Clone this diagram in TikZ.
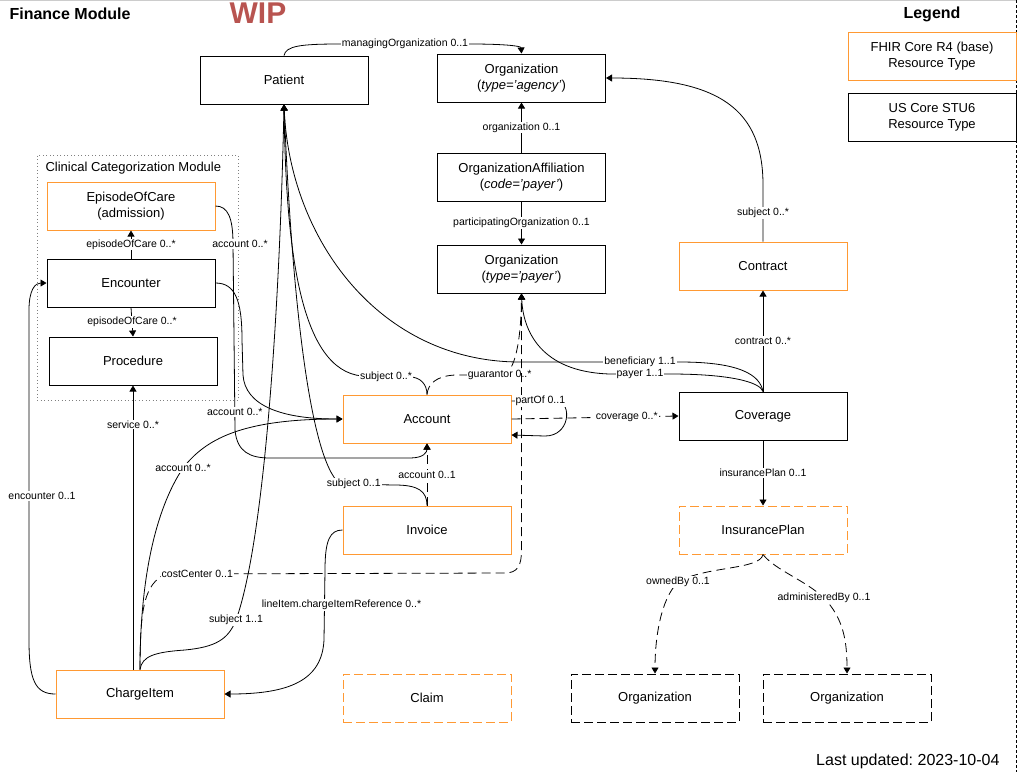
\documentclass[tikz,border=0pt]{standalone}
\usepackage{fontspec}
\setmainfont{Liberation Sans}
\usetikzlibrary{arrows.meta}
\definecolor{fhirorange}{HTML}{FF9933}
\definecolor{wipred}{HTML}{B85450}
\begin{document}
\begin{tikzpicture}[x=1pt,y=-1pt,
 box/.style={draw, line width=1pt, minimum width=168pt, minimum height=48pt, inner sep=0pt, align=center, font=\fontsize{13}{16}\selectfont, fill=white},
 fhir/.style={box, draw=fhirorange},
 uscore/.style={box, draw=black},
 dashbox/.style={dash pattern=on 9pt off 4pt},
 rel/.style={draw=black, line width=0.8pt, -{Triangle[length=6pt,width=7pt]}},
 drel/.style={rel, dash pattern=on 9pt off 5pt},
 lbl/.style={font=\fontsize{10.5}{12}\selectfont, fill=white, inner sep=1pt, text=black},
 heading/.style={font=\bfseries\fontsize{16}{19}\selectfont}
]
\useasboundingbox (0,0) rectangle (1019,772);
% frame lines
\draw[gray!40, line width=1pt] (0,0.5) -- (1016,0.5);
\draw[black, line width=1pt, dash pattern=on 3pt off 2pt] (1016.5,0) -- (1016.5,772);
% titles
\node[heading, anchor=base west] (title) at (6,19) {Finance Module};
\node[font=\bfseries\fontsize{30}{36}\selectfont, text=wipred, anchor=base] (wip) at (258,23) {WIP};
\node[heading, anchor=base] (legend) at (932,18) {Legend};
\node[font=\fontsize{16}{19}\selectfont, anchor=base east] (updated) at (1003,765) {\frenchspacing Last updated: 2023-10-04};
% clinical module
\node[draw=gray, line width=0.8pt, dash pattern=on 1pt off 2.5pt, minimum width=201pt, minimum height=245pt, inner sep=0pt] (ccm) at (137.5,277.5) {};
\node[font=\fontsize{13}{16}\selectfont, anchor=base west] (ccmlabel) at (42,171) {Clinical Categorization Module};
% legend boxes
\node[fhir] (lgfhir) at (932,56) {FHIR Core R4 (base)\\Resource Type};
\node[uscore] (lgus) at (932,117) {US Core STU6\\Resource Type};
% nodes
\node[uscore] (patient) at (284,80) {Patient};
\node[uscore] (orgA) at (521.5,78) {Organization\\(\textit{type='agency'})};
\node[uscore] (orgAff) at (521.5,177) {OrganizationAffiliation\\(\textit{code='payer'})};
\node[uscore] (orgP) at (521.5,269) {Organization\\(\textit{type='payer'})};
\node[fhir] (contract) at (763,266) {Contract};
\node[uscore] (coverage) at (763,416) {Coverage};
\node[fhir, dashbox] (iplan) at (763,530) {InsurancePlan};
\node[uscore, dashbox] (org1) at (655,698) {Organization};
\node[uscore, dashbox] (org2) at (847,698) {Organization};
\node[fhir, dashbox] (claim) at (427,698) {Claim};
\node[fhir] (invoice) at (427,530) {Invoice};
\node[fhir] (account) at (427,419) {Account};
\node[fhir] (chargeitem) at (140,694) {ChargeItem};
\node[fhir] (episode) at (131,206) {EpisodeOfCare\\(admission)};
\node[uscore] (encounter) at (131,283) {Encounter};
\node[uscore] (procedure) at (133,361) {Procedure};
% edges
\draw[rel] (encounter.north) -- node[lbl]{episodeOfCare 0..*} (episode.south);
\draw[rel] (encounter.south) -- node[lbl]{episodeOfCare 0..*} (procedure.north);
\draw[rel] (patient.north) .. controls (286,46) and (300,44) .. (340,44) -- node[lbl]{managingOrganization 0..1} (470,44) .. controls (505,44) and (521,46) .. (orgA.north);
\draw[rel] (orgAff.north) -- node[lbl]{organization 0..1} (orgA.south);
\draw[rel] (orgAff.south) -- node[lbl]{participatingOrganization 0..1} (orgP.north);
\draw[rel] (contract.north) -- node[lbl]{subject 0..*} (763,185) .. controls (763,110) and (720,78) .. (orgA.east);
\draw[rel] (coverage.north) -- node[lbl]{contract 0..*} (contract.south);
\draw[rel] (coverage.south) -- node[lbl]{insurancePlan 0..1} (iplan.north);
\draw[drel] (iplan.south) .. controls (760,570) and (705,566) .. node[lbl,pos=1]{ownedBy 0..1} (678,582) .. controls (660,600) and (655,640) .. (org1.north);
\draw[drel] (iplan.south) .. controls (775,570) and (805,580) .. node[lbl,pos=1]{administeredBy 0..1} (824,598) .. controls (843,618) and (847,640) .. (org2.north);
\draw[rel] (coverage.north) .. controls (760,375) and (740,362) .. (680,362) -- node[lbl]{beneficiary 1..1} (600,362) -- (520,362) .. controls (380,362) and (290,240) .. (patient.south);
\draw[rel] (coverage.north) .. controls (760,382) and (730,374) .. (670,374) -- node[lbl]{payer 1..1} (610,374) .. controls (540,372) and (523,330) .. (orgP.south);
\draw[rel] (account.north) .. controls (427,384) and (420,377) .. (410,377) -- node[lbl]{subject 0..*} (362,376) .. controls (300,370) and (286,250) .. (patient.south);
\draw[drel] (account.north) .. controls (428,384) and (436,376) .. (455,375) -- node[lbl,pos=0.95]{guarantor 0..*} (502,375) .. controls (515,374) and (521,340) .. (orgP.south);
\draw[rel] (invoice.north) .. controls (427,491) and (418,485) .. (395,485) -- node[lbl,pos=0.75]{subject 0..1} (340,484) .. controls (310,460) and (292,300) .. (patient.south);
\draw[rel] (chargeitem.north) .. controls (142,656) and (155,652) .. (185,650) .. controls (215,647) and (228,640) .. node[lbl,pos=1]{subject 1..1} (236,620) .. controls (265,540) and (280,300) .. (patient.south);
\draw[rel] (chargeitem.north) .. controls (140,580) and (155,510) .. node[lbl,pos=1]{account 0..*} (183,468) .. controls (205,440) and (240,419) .. (account.west);
\draw[drel] (chargeitem.north) .. controls (140,605) and (145,585) .. (165,574) -- node[lbl,pos=0.095]{costCenter 0..1} (505,573) .. controls (518,573) and (521.5,565) .. (521.5,550) -- (orgP.south);
\draw[rel] (chargeitem.north -| procedure.south) -- node[lbl,pos=0.863]{service 0..*} (procedure.south);
\draw[rel] (chargeitem.west) .. controls (35,694) and (29,680) .. (29,640) -- node[lbl,pos=0.436,xshift=13pt]{encounter 0..1} (29,310) .. controls (29,290) and (35,283) .. (encounter.west);
\draw[rel] (episode.east) .. controls (228,206) and (233,218) .. node[lbl,pos=1,xshift=7pt]{account 0..*} (233,244) -- node[lbl,pos=0.903]{account 0..*} (235,430) .. controls (237,452) and (250,458) .. (270,458) -- (410,458) .. controls (424,458) and (427,452) .. (account.south);
\draw[rel] (encounter.east) .. controls (235,283) and (242,300) .. (242,340) -- (243,375) .. controls (245,405) and (280,419) .. (account.west);
\draw[rel] (invoice.west) .. controls (330,530) and (325,540) .. (325,570) -- node[lbl,xshift=17pt]{lineItem.chargeItemReference 0..*} (324,640) .. controls (322,680) and (290,694) .. (chargeitem.east);
\draw[drel] (invoice.north) -- node[lbl]{account 0..1} (account.south);
\draw[drel] (account.east) -- node[lbl,pos=0.69]{coverage 0..*} (coverage.west);
\draw[rel] ([yshift=18pt]account.east) -- node[lbl,pos=0.62]{partOf 0..1} (558,401) .. controls (572,404) and (570,436) .. (545,436) -- ([yshift=-16pt]account.east);
\end{tikzpicture}
\end{document}
